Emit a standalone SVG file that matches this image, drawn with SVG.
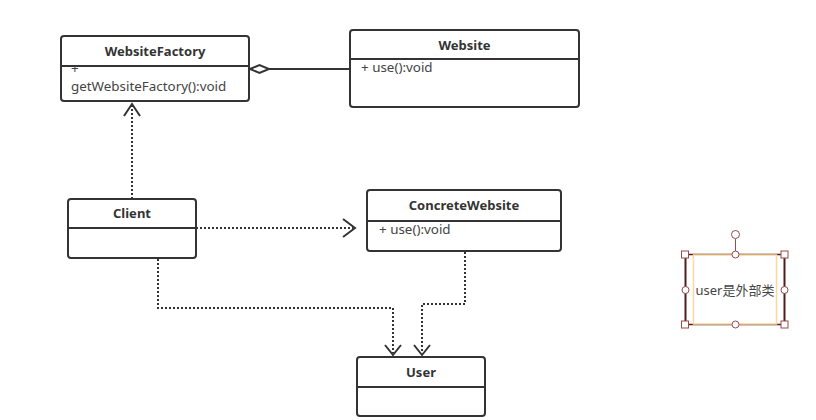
<svg xmlns="http://www.w3.org/2000/svg" width="816" height="420" viewBox="0 0 816 420">
<style>
.box{fill:#fff;stroke:#333;stroke-width:2}
.div{stroke:#333;stroke-width:2}
.title{font-family:"Noto Sans","Liberation Sans",sans-serif;font-size:13px;font-weight:bold;fill:#333;text-anchor:middle}
.mem{font-family:"Noto Sans","Liberation Sans",sans-serif;font-size:13.4px;fill:#444}
.dep{fill:none;stroke:#333;stroke-width:2;stroke-dasharray:2 2}
.solid{fill:none;stroke:#333;stroke-width:2}
.head{fill:none;stroke:#333;stroke-width:2}
.hdl{fill:#fff;stroke:#9a4a4a;stroke-width:1}
</style>
<rect width="816" height="420" fill="#fff"/>
<g id="connectors">
  <path class="dep" d="M132 199 V106"/>
  <path class="head" d="M124 116 L132 104 L140 116"/>
  <path class="solid" d="M269 69 H350"/>
  <path d="M250 69 L259.5 65 L269 69 L259.5 73 Z" fill="#fff" stroke="#333" stroke-width="2"/>
  <path class="dep" d="M196 228 H353"/>
  <path class="head" d="M343 219 L355 228 L343 237"/>
  <path class="dep" d="M158 259 V308 H393 V353"/>
  <path class="head" d="M385 345 L393 355 L401 345"/>
  <path class="dep" d="M465 252 V304 H422 V353"/>
  <path class="head" d="M414 345 L422 355 L430 345"/>
</g>
<g id="WebsiteFactory">
  <rect class="box" x="61" y="36" width="188" height="65" rx="3"/>
  <line class="div" x1="61" y1="66" x2="249" y2="66"/>
  <text class="title" x="155" y="56">WebsiteFactory</text>
  <text class="mem" x="71" y="72.5" font-size="11">+</text>
  <text class="mem" x="71" y="90.5">getWebsiteFactory():void</text>
</g>
<g id="Website">
  <rect class="box" x="350" y="30" width="229" height="77" rx="3"/>
  <line class="div" x1="350" y1="59" x2="579" y2="59"/>
  <text class="title" x="464.5" y="50">Website</text>
  <text class="mem" x="361" y="72">+ use():void</text>
</g>
<g id="Client">
  <rect class="box" x="68" y="199" width="128" height="59" rx="3"/>
  <line class="div" x1="68" y1="228" x2="196" y2="228"/>
  <text class="title" x="132" y="218">Client</text>
</g>
<g id="ConcreteWebsite">
  <rect class="box" x="367" y="190" width="194" height="61" rx="3"/>
  <line class="div" x1="367" y1="221" x2="561" y2="221"/>
  <text class="title" x="464" y="210">ConcreteWebsite</text>
  <text class="mem" x="379" y="234">+ use():void</text>
</g>
<g id="User">
  <rect class="box" x="357" y="357" width="128" height="59" rx="3"/>
  <line class="div" x1="357" y1="387" x2="485" y2="387"/>
  <text class="title" x="421" y="377">User</text>
</g>
<g id="note">
  <line x1="685" y1="254.5" x2="785" y2="254.5" stroke="#4a1f1f" stroke-width="1.5"/>
  <line x1="685" y1="324.5" x2="785" y2="324.5" stroke="#4a1f1f" stroke-width="1.5"/>
  <line x1="685.5" y1="254" x2="685.5" y2="325" stroke="#4a1f1f" stroke-width="2"/>
  <line x1="784.5" y1="254" x2="784.5" y2="325" stroke="#4a1f1f" stroke-width="2"/>
  <rect x="693.5" y="255" width="83" height="69" fill="#fff" stroke="#fdd79c" stroke-width="1.5"/>
  <text x="735" y="295" font-family="'Noto Sans','Noto Sans CJK SC',sans-serif" font-size="13" fill="#444" text-anchor="middle">user是外部类</text>
  <line x1="735.5" y1="239" x2="735.5" y2="254" stroke="#9a4a4a" stroke-width="1"/>
  <circle class="hdl" cx="735.5" cy="234.5" r="4"/>
  <circle class="hdl" cx="735.5" cy="254.5" r="3.5"/>
  <circle class="hdl" cx="735.5" cy="324.5" r="3.5"/>
  <circle class="hdl" cx="685.5" cy="290" r="3.5"/>
  <circle class="hdl" cx="784.5" cy="290" r="3.5"/>
  <rect class="hdl" x="681.5" y="251" width="7" height="7"/>
  <rect class="hdl" x="781" y="251" width="7" height="7"/>
  <rect class="hdl" x="681.5" y="321" width="7" height="7"/>
  <rect class="hdl" x="781" y="321" width="7" height="7"/>
</g>
</svg>
